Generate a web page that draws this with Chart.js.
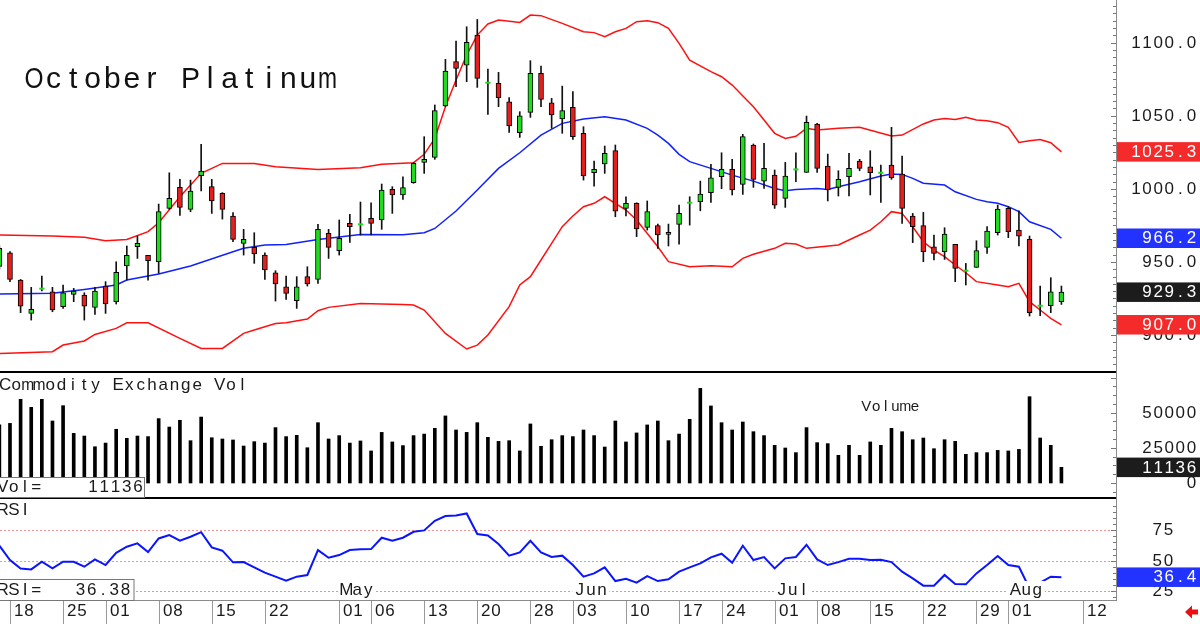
<!DOCTYPE html>
<html><head><meta charset="utf-8">
<script src="https://cdn.jsdelivr.net/npm/chart.js@4.4.1/dist/chart.umd.min.js"></script>
<style>html,body{margin:0;padding:0;background:#fff;overflow:hidden}#wrap{position:relative;width:1200px;height:624px}canvas{display:block}</style>
</head><body><div id="wrap"><canvas id="c" width="1200" height="624"></canvas></div>
<script>
// ---------------- DATA ----------------
// trading-day index of the first value (index 0 = Mar 18)
const firstIdx = -1;
const opens = [947.0,956.3,937.6,914.8,931.7,929.6,919.4,927.8,927.3,918.9,
933.5,922.8,947.2,960.4,954.5,950.1,986.6,1001.0,986.0,1009.0,
1001.5,996.9,981.4,962.7,960.0,954.7,942.6,933.0,923.5,939.9,
938.1,969.5,957.7,976.4,975.7,979.8,978.7,999.6,995.8,1004.2,
1018.1,1021.5,1056.7,1087.0,1084.7,1105.2,1072.6,1072.2,1059.6,1038.4,
1052.3,1079.0,1058.9,1047.8,1055.8,1038.0,1011.0,1017.0,1026.1,986.6,
990.1,973.6,974.8,968.8,975.7,990.5,991.2,997.4,1008.3,1013.3,
1003.1,1030.0,1005.3,1009.4,993.5,1013.3,1011.3,1044.4,1015.6,1001.0,
1008.3,1019.0,1015.1,1011.0,1016.3,1010.1,981.4,974.8,960.4,957.0,
962.0,944.0,946.3,959.9,970.0,986.6,971.8,965.4,920.0,920.0,922.8];
const highs = [961.0,957.0,938.0,932.6,940.3,932.6,934.2,931.9,928.9,932.6,
936.5,950.1,960.9,967.7,954.5,989.6,1011.0,1006.5,1006.0,1030.4,
1006.5,997.4,983.7,972.3,970.0,956.3,944.0,940.3,939.9,946.7,
975.7,972.3,978.7,982.5,991.0,990.5,1003.3,1001.5,1008.3,1017.9,
1035.7,1057.4,1088.6,1101.1,1110.9,1115.9,1082.0,1079.7,1062.4,1052.8,
1087.7,1084.0,1061.9,1070.3,1066.5,1042.5,1019.0,1029.3,1030.0,994.6,
990.5,991.7,975.9,975.9,988.9,994.6,1005.3,1016.8,1024.7,1020.2,
1037.3,1030.7,1031.1,1012.9,1018.1,1024.7,1049.8,1044.8,1023.8,1012.4,
1024.3,1020.2,1026.1,1016.3,1042.1,1022.4,983.2,983.9,968.4,973.4,
962.0,949.0,964.5,974.1,988.9,987.8,985.0,967.7,933.5,939.2,933.5];
const lows = [945.0,936.5,915.3,910.2,930.1,915.9,918.2,922.8,910.2,914.1,
914.8,921.2,937.6,952.4,937.6,942.2,986.0,981.9,984.4,998.5,
983.2,979.3,963.8,954.7,949.0,938.1,923.2,924.4,918.2,933.5,
935.3,952.4,954.7,963.4,968.4,968.4,972.3,983.2,992.8,1003.8,
1010.6,1020.2,1056.2,1069.9,1073.3,1069.4,1051.0,1056.2,1038.6,1035.2,
1048.9,1056.2,1041.4,1038.0,1033.9,1006.0,1001.9,1010.6,980.9,981.4,
967.3,971.8,959.3,960.9,962.2,975.2,985.0,990.8,1000.1,995.8,
996.2,1001.0,1000.3,986.6,987.3,1004.9,1011.3,1011.3,991.7,995.1,
995.1,1012.4,995.8,990.8,1006.5,976.4,963.2,950.2,951.3,951.7,
936.5,934.2,946.3,955.8,968.4,966.6,960.9,913.0,913.2,915.3,920.9];
const closes = [959.3,938.1,919.8,917.5,931.7,917.1,928.9,930.1,919.8,930.1,
921.2,942.8,954.5,962.7,950.8,984.4,993.5,987.3,998.5,1012.2,
991.7,986.0,965.4,965.4,955.4,944.5,934.9,928.5,933.0,934.9,
972.3,960.0,966.1,974.1,975.7,976.4,999.2,995.8,1000.8,1017.4,
1020.2,1053.5,1080.6,1082.4,1100.2,1075.6,1072.6,1062.4,1043.0,1050.0,
1079.0,1061.2,1050.5,1053.5,1035.7,1008.8,1013.3,1024.3,984.8,990.1,
972.5,984.4,968.4,970.2,983.2,990.5,996.4,1007.6,1013.3,999.2,
1035.7,1006.5,1014.0,988.9,1008.8,1013.3,1045.5,1014.0,999.2,1006.5,
1014.0,1014.0,1011.0,1011.0,1007.6,986.6,974.1,957.0,955.8,969.1,
945.6,944.0,957.7,971.1,986.2,970.7,967.7,915.3,920.0,929.6,929.3];
const volumes = [41300,42400,59500,53800,59500,44100,55000,35300,33400,25800,
28400,38200,31800,33400,33000,45800,39800,44600,30100,46900,
32200,31300,30600,26300,29400,28400,39400,33000,33900,25100,
42900,31300,33700,28400,29900,22800,36000,29200,26600,33700,
34800,38900,47700,37700,36000,42900,32500,29600,30100,22800,
42000,26100,30800,33700,33000,37700,33700,25600,44100,29200,
35600,41300,44100,30100,34800,45300,67300,54800,42900,37700,
43400,36500,33700,26800,24900,21600,39400,28700,28000,19700,
26800,19700,29200,26800,38900,36500,30800,32000,24400,30800,
29600,20400,21600,21600,23200,22800,23900,61400,32000,26800,11136];
const rsi = [62.3,50.5,43.6,42.8,49.1,43.6,49.1,49.1,45.0,51.0,
46.4,56.5,61.5,64.2,57.1,68.3,71.1,66.4,69.7,73.5,
60.9,58.2,48.6,48.8,44.5,40.1,36.8,33.5,36.8,38.2,
58.7,52.4,54.6,58.7,59.3,59.5,68.9,66.4,68.9,73.8,
74.9,82.8,86.7,87.2,88.9,71.9,70.8,63.7,54.1,56.8,
66.4,56.8,53.0,54.1,46.4,36.8,39.5,44.5,33.2,35.1,
31.9,37.3,33.2,34.6,40.9,44.5,47.8,52.7,55.7,48.3,
62.3,50.5,53.0,43.6,51.9,53.0,63.1,51.0,46.4,48.8,
51.6,51.6,50.5,50.8,48.8,40.9,35.4,29.4,29.4,38.2,
30.8,30.5,39.5,46.4,53.8,46.4,45.0,27.2,31.9,36.8,36.38];
// Bollinger bands: [day index, value]
const bbUpper = [[-1,968.4],[4,967.7],[7,966.8],[9,964.5],[11,965.4],[13,970.7],[14,976.8],[16,994.6],[18,1010.6],[20,1017.4],
[23,1017.4],[25,1015.2],[29,1013.3],[33,1014.5],[35,1016.8],[37,1017.6],[38,1017.9],[39,1023.6],[40,1034.5],[41,1056.2],
[42,1074.5],[43,1091.6],[44,1105.2],[45,1112.8],[46,1115.5],[48,1113.9],[49,1118.9],[50,1118.5],[52,1113.2],[54,1107.5],
[55,1106.9],[56,1104.1],[57,1107.5],[58,1109.8],[59,1114.4],[60,1115.0],[61,1113.7],[62,1109.8],[63,1099.5],[64,1088.1],
[66,1080.2],[67,1076.7],[68,1071.0],[70,1056.2],[71,1047.1],[72,1038.0],[73,1034.5],[74,1036.0],[75,1041.4],[76,1040.2],
[78,1041.4],[80,1042.1],[83,1036.1],[84,1036.8],[86,1044.4],[87,1047.1],[88,1048.2],[89,1047.5],[90,1048.9],[91,1047.1],
[92,1046.6],[93,1045.3],[94,1042.1],[95,1031.8],[96,1032.9],[97,1033.8],[98,1031.6],[99,1025.3]];
const bbMiddle = [[-1,928.0],[4,928.5],[7,931.2],[10,934.2],[11,937.6],[14,941.7],[17,947.2],[21,957.0],[22,959.3],[24,961.6],
[26,962.0],[29,965.4],[33,968.8],[37,968.6],[39,970.0],[40,972.9],[42,984.8],[44,999.2],[46,1014.0],[48,1024.7],
[50,1036.8],[52,1044.8],[54,1047.8],[56,1049.4],[58,1047.1],[60,1041.4],[61,1036.8],[62,1031.1],[63,1023.6],[64,1018.6],
[66,1014.0],[68,1009.4],[70,1005.3],[72,1000.3],[73,998.7],[74,999.6],[76,1000.3],[77,999.6],[78,1001.5],[80,1004.9],
[82,1008.8],[83,1010.1],[84,1009.9],[85,1007.2],[86,1003.8],[88,1002.6],[89,998.0],[91,992.8],[92,991.2],[93,990.1],
[94,987.8],[95,984.4],[96,977.5],[98,972.3],[99,966.2]];
const bbLower = [[-1,887.4],[4,888.6],[5,893.1],[7,895.9],[8,900.4],[10,904.5],[11,908.4],[13,908.4],[16,897.7],[18,890.8],
[20,890.8],[22,901.1],[23,903.4],[25,907.9],[26,908.4],[28,910.9],[29,916.6],[30,918.9],[33,921.6],[37,920.9],
[38,920.5],[39,917.1],[41,901.1],[43,890.4],[44,893.1],[45,900.0],[47,919.4],[48,934.2],[49,939.9],[50,951.3],
[51,962.7],[52,974.1],[53,981.4],[54,987.8],[55,990.1],[56,994.6],[57,990.1],[58,985.5],[59,978.7],[61,960.4],
[62,950.2],[64,946.7],[66,947.4],[68,946.7],[69,952.4],[70,955.2],[72,959.3],[73,962.7],[74,962.2],[75,959.3],
[78,961.6],[80,968.4],[81,971.8],[82,977.5],[83,984.4],[84,983.2],[85,974.1],[86,963.8],[87,958.1],[88,953.6],
[89,947.9],[90,942.6],[91,936.5],[93,934.2],[94,933.0],[95,935.3],[96,922.8],[97,917.1],[98,911.4],[99,907.0]];
// x-axis ticks (day index) and labels
const tickIdx = [0,5,9,14,19,24,31,34,39,44,49,53,58,63,67,72,76,81,86,91,94,101];
const tickLabels = ['18','25','01','08','15','22','01','06','13','20','28','03','10','17','24','01','08','15','22','29','01','12'];
const monthIdx = [31,53,72,94];
const monthLabels = ['May','Jun','Jul','Aug'];
const priceTicks = [900,950,1000,1050,1100];
const volTicks = [0,25000,50000];
const rsiTicks = [25,50,75];
const titleText = 'October Platinum';

// ---------------- LAYOUT / STYLE ----------------
const W = 1200, H = 624, PLOT_H = 600, AXIS_W = 84;
const SEP = [372, 498];
const FONT = '"Liberation Sans", Arial, sans-serif';
const GREEN = '#1fdc1f', RED = '#e61e1e';
function calib(v1, p1, v2, p2) { const vpp = (v1 - v2) / (p2 - p1); return { max: v1 + p1 * vpp, min: v2 - (PLOT_H - p2) * vpp }; }
const rP = calib(1100, 42.7, 900, 335.0);
const rV = calib(50000, 412.7, 0, 483.0);
const rR = calib(75, 530.3, 25, 591.0);

const xs = opens.map((_, i) => i + firstIdx);
const isDoji = opens.map((o, i) => o === closes[i]);

function mono(ctx, s, x, y, cell, align, maxW) {
  const x0 = align === 'right' ? x - s.length * cell : x;
  ctx.textAlign = 'center';
  for (let i = 0; i < s.length; i++) {
    const ch = s[i]; if (ch === ' ') continue;
    ctx.fillText(ch, x0 + cell * (i + 0.5), y, maxW || cell + 4);
  }
}

const deco = {
  id: 'deco',
  beforeDatasetsDraw(chart) {
    const { ctx, chartArea: a, scales: { yR } } = chart;
    const cols = ['#a0a0ff', '#b0b0b0', '#ff9090'];
    ctx.save(); ctx.lineWidth = 1; ctx.setLineDash([2, 2]);
    rsiTicks.forEach((v, k) => {
      const y = Math.round(yR.getPixelForValue(v)) + 0.5;
      ctx.strokeStyle = cols[k]; ctx.beginPath(); ctx.moveTo(a.left, y); ctx.lineTo(a.right, y); ctx.stroke();
    });
    ctx.restore();
  },
  afterDatasetsDraw(chart) {
    const { ctx, chartArea: a, scales: { x, yP, yV, yR } } = chart;
    const R = a.right;
    ctx.save(); ctx.setLineDash([]); ctx.textBaseline = 'middle';
    // month labels on the RSI 25 line
    ctx.font = '17px ' + FONT;
    monthIdx.forEach((m, k) => {
      const px = x.getPixelForValue(m) + 1.5;
      ctx.fillStyle = '#fff'; ctx.fillRect(px - 2, 581, 3 * 11 + 4, 18.5);
      ctx.fillStyle = '#1a1a1a'; mono(ctx, monthLabels[k], px, 590.5, 11, 'left');
    });
    // panel separators
    ctx.fillStyle = '#000';
    SEP.forEach(s => ctx.fillRect(0, s - 1, R + 1, 2));
    // bottom axis line and right axis line
    ctx.strokeStyle = '#8a8a8a'; ctx.lineWidth = 1;
    ctx.beginPath(); ctx.moveTo(0, 600.5); ctx.lineTo(R + 1, 600.5); ctx.stroke();
    ctx.beginPath(); ctx.moveTo(R + 0.5, 0); ctx.lineTo(R + 0.5, 601); ctx.stroke();
    // right-axis tick marks
    ctx.strokeStyle = '#777';
    const tick = (y, len) => { y = Math.round(y) + 0.5; ctx.beginPath(); ctx.moveTo(R - len, y); ctx.lineTo(R, y); ctx.stroke(); };
    for (let v = 875; v <= 1130; v += 5) { const y = yP.getPixelForValue(v); if (y > 2 && y < SEP[0] - 2) tick(y, v % 50 === 0 ? 5 : 3); }
    for (let v = -6250; v <= 80000; v += 6250) { const y = yV.getPixelForValue(v); if (y > SEP[0] + 2 && y < SEP[1] - 2) tick(y, v % 25000 === 0 ? 5 : 3); }
    for (let v = 20; v <= 100; v += 5) { const y = yR.getPixelForValue(v); if (y > SEP[1] + 2 && y < 598) tick(y, v % 25 === 0 ? 5 : 3); }
    // right axis labels
    ctx.fillStyle = '#1a1a1a'; ctx.font = '17px ' + FONT;
    priceTicks.forEach(v => mono(ctx, v.toFixed(1), 1197, yP.getPixelForValue(v) + 0.5, 11.1, 'right'));
    volTicks.forEach(v => mono(ctx, String(v), 1197, yV.getPixelForValue(v) + 0.5, 11.1, 'right'));
    rsiTicks.forEach(v => mono(ctx, String(v), 1174, yR.getPixelForValue(v) + 0.5, 11.1, 'right'));
    // last-value boxes
    const box = (y, bg, txt) => {
      ctx.fillStyle = bg; ctx.fillRect(R + 1, y - 9.75, W - R, 19.5);
      ctx.fillStyle = '#fff'; mono(ctx, txt, 1197, y + 0.5, 11.1, 'right');
    };
    const last = arr => arr[arr.length - 1];
    box(yP.getPixelForValue(last(bbUpper)[1]), '#f52a2a', last(bbUpper)[1].toFixed(1));
    box(yP.getPixelForValue(last(bbMiddle)[1]), '#2233ff', last(bbMiddle)[1].toFixed(1));
    box(yP.getPixelForValue(last(closes)), '#1c1c1c', last(closes).toFixed(1));
    box(yP.getPixelForValue(last(bbLower)[1]), '#f52a2a', last(bbLower)[1].toFixed(1));
    box(yV.getPixelForValue(last(volumes)), '#1c1c1c', String(last(volumes)));
    box(yR.getPixelForValue(last(rsi)), '#2233ff', last(rsi).toFixed(1));
    // bottom date ticks
    ctx.strokeStyle = '#9a9a9a';
    ctx.fillStyle = '#1a1a1a';
    tickIdx.forEach((t, k) => {
      const px = Math.round(x.getPixelForValue(t)) + 0.5;
      ctx.beginPath(); ctx.moveTo(px, 601); ctx.lineTo(px, H); ctx.stroke();
      mono(ctx, tickLabels[k], px + 3, 611.5, 10.3, 'left');
    });
    // info boxes bottom-left
    ctx.strokeStyle = '#777'; ctx.lineWidth = 1;
    ctx.fillStyle = '#fff'; ctx.fillRect(-1, 477, 146, 20); ctx.strokeRect(-0.5, 477.5, 145, 20);
    ctx.fillRect(-1, 579.5, 135, 20.5); ctx.strokeRect(-0.5, 579.5, 134.5, 21);
    ctx.fillStyle = '#1a1a1a';
    mono(ctx, 'Vol=', -3, 487.5, 11.2, 'left');
    mono(ctx, String(last(volumes)), 143.5, 487.5, 11.2, 'right');
    mono(ctx, 'RSI=', -3, 590, 11.2, 'left');
    mono(ctx, last(rsi).toFixed(2), 131, 590, 11.2, 'right');
    // panel titles
    mono(ctx, 'Commodity Exchange Vol', -0.6, 385, 11.3, 'left', 13);
    mono(ctx, 'RSI', -3, 510, 11.2, 'left');
    ctx.font = '15px ' + FONT;
    mono(ctx, 'Volume', 861.5, 406.5, 9.7, 'left', 12);
    // main title
    ctx.font = '30px ' + FONT; ctx.textBaseline = 'alphabetic'; ctx.fillStyle = '#111';
    mono(ctx, titleText, 24.2, 87.5, 19.57, 'left', 19);
    // red arrow bottom right
    ctx.fillStyle = '#e81010';
    ctx.beginPath(); ctx.moveTo(1185, 612); ctx.lineTo(1192, 605.5); ctx.lineTo(1192, 618.5); ctx.closePath(); ctx.fill();
    ctx.fillRect(1191, 609.5, 7, 5);
    ctx.restore();
  }
};

const cfg = {
  type: 'bar',
  data: {
    datasets: [
      { type: 'line', label: 'upper', yAxisID: 'yP', data: bbUpper.map(p => ({ x: p[0], y: p[1] })), borderColor: '#ff1010', borderWidth: 1.5, pointRadius: 0, tension: 0, order: 6 },
      { type: 'line', label: 'middle', yAxisID: 'yP', data: bbMiddle.map(p => ({ x: p[0], y: p[1] })), borderColor: '#1020ff', borderWidth: 1.5, pointRadius: 0, tension: 0, order: 6 },
      { type: 'line', label: 'lower', yAxisID: 'yP', data: bbLower.map(p => ({ x: p[0], y: p[1] })), borderColor: '#ff1010', borderWidth: 1.5, pointRadius: 0, tension: 0, order: 6 },
      { type: 'bar', label: 'wick', yAxisID: 'yP', grouped: false, barThickness: 1, backgroundColor: '#111',
        data: xs.map((xi, i) => ({ x: xi, y: [lows[i], highs[i]] })), order: 5 },
      { type: 'bar', label: 'body', yAxisID: 'yP', grouped: false, barThickness: 5, borderWidth: 1, borderColor: '#000', borderSkipped: false,
        backgroundColor: closes.map((c, i) => c >= opens[i] ? GREEN : RED),
        data: xs.map((xi, i) => ({ x: xi, y: isDoji[i] ? null : [opens[i], closes[i]] })), order: 4 },
      { type: 'line', label: 'doji', yAxisID: 'yP', showLine: false, pointStyle: 'line', pointRadius: 2.6, pointBorderWidth: 2, pointBorderColor: GREEN,
        data: xs.map((xi, i) => ({ x: xi, y: opens[i] })).filter((_, i) => isDoji[i]), order: 3 },
      { type: 'bar', label: 'volume', yAxisID: 'yV', grouped: false, barThickness: 3, backgroundColor: '#000',
        data: xs.map((xi, i) => ({ x: xi, y: volumes[i] })), order: 5 },
      { type: 'line', label: 'rsi', yAxisID: 'yR', data: xs.map((xi, i) => ({ x: xi, y: rsi[i] })), borderColor: '#0a14ff', borderWidth: 2, pointRadius: 0, tension: 0, order: 2 }
    ]
  },
  options: {
    responsive: false, animation: false, devicePixelRatio: 1, events: [],
    layout: { autoPadding: false, padding: { left: 0, top: 0, right: AXIS_W, bottom: H - PLOT_H } },
    plugins: { legend: { display: false }, tooltip: { enabled: false } },
    scales: {
      x: { type: 'linear', min: -0.94, max: 104.14, display: false, offset: false },
      yP: { type: 'linear', axis: 'y', display: false, min: rP.min, max: rP.max },
      yV: { type: 'linear', axis: 'y', display: false, min: rV.min, max: rV.max },
      yR: { type: 'linear', axis: 'y', display: false, min: rR.min, max: rR.max }
    }
  },
  plugins: [deco]
};
new Chart(document.getElementById('c'), cfg);
</script></body></html>
